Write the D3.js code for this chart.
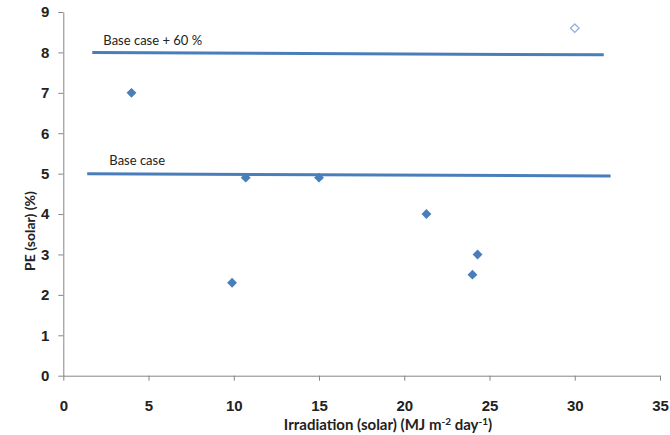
<!DOCTYPE html>
<html>
<head>
<meta charset="utf-8">
<script src="https://cdn.jsdelivr.net/npm/d3@7"></script>
<style>
  body { margin: 0; background: #fff; }
  svg { display: block; font-family: Lato, "Open Sans", sans-serif; }
  .tick text { font-size: 15px; font-weight: 700; fill: #222; }
  .axis path, .axis line { stroke: #868686; }
</style>
</head>
<body>
<div id="chart"></div>
<script>
// PE (solar) vs irradiation — observed points, one outlier, two reference lines

const irradiation = [4, 9.9, 10.7, 15, 21.3, 24, 24.3];
const pe = [7, 2.3, 4.9, 4.9, 4.0, 2.5, 3.0];

const openPoint = { x: 30, y: 8.6 };

// hand-drawn reference lines (endpoints)
const refNames = ["Base case + 60 %", "Base case"];
const refX = [[1.7, 31.7], [1.4, 32.1]];
const refY = [[8.0, 7.94], [5.0, 4.94]];

const xTicks = [0, 5, 10, 15, 20, 25, 30, 35];
const yTicks = [0, 1, 2, 3, 4, 5, 6, 7, 8, 9];

const width = 670, height = 435;
const margin = { top: 12, right: 10, bottom: 59.3, left: 63.3 };

const svg = d3.select("#chart").append("svg")
  .attr("width", width).attr("height", height);

const x = d3.scaleLinear().domain([0, 35]).range([margin.left, width - margin.right]);
const y = d3.scaleLinear().domain([0, 9]).range([height - margin.bottom, margin.top]);

// axes
svg.append("g").attr("class", "axis")
  .attr("transform", `translate(0,${y(0)})`)
  .call(d3.axisBottom(x).tickValues(xTicks).tickSize(5).tickPadding(20).tickSizeOuter(0));
svg.append("g").attr("class", "axis")
  .attr("transform", `translate(${x(0)},0)`)
  .call(d3.axisLeft(y).tickValues(yTicks).tickSize(5).tickPadding(9).tickSizeOuter(0));

// axis titles
svg.append("text")
  .attr("x", 388).attr("y", 430)
  .attr("text-anchor", "middle")
  .attr("font-size", 15).attr("font-weight", 700).attr("fill", "#222")
  .call(t => {
    t.append("tspan").text("Irradiation (solar) (MJ m");
    t.append("tspan").attr("dy", -5).attr("font-size", 10).text("-2");
    t.append("tspan").attr("dy", 5).text(" day");
    t.append("tspan").attr("dy", -5).attr("font-size", 10).text("-1");
    t.append("tspan").attr("dy", 5).text(")");
  });

svg.append("text")
  .attr("transform", `translate(35,${231}) rotate(-90)`)
  .attr("text-anchor", "middle")
  .attr("font-size", 14).attr("font-weight", 700).attr("fill", "#222")
  .text("PE (solar) (%)");

// reference lines
const line = d3.line().x(d => x(d[0])).y(d => y(d[1]));
refNames.forEach((name, i) => {
  const pts = refX[i].map((v, j) => [v, refY[i][j]]);
  svg.append("path")
    .attr("d", line(pts))
    .attr("fill", "none").attr("stroke", "#4a7ebb").attr("stroke-width", 3);
});

// line labels
svg.append("text")
  .attr("x", x(2.35)).attr("y", y(8) - 7)
  .attr("font-size", 13).attr("fill", "#222")
  .text(refNames[0]);
svg.append("text")
  .attr("x", x(2.7)).attr("y", y(5) - 9)
  .attr("font-size", 13).attr("fill", "#222")
  .text(refNames[1]);

// points
const diamond = d3.symbol().type(d3.symbolDiamond2).size(62);
svg.append("g").selectAll("path")
  .data(irradiation.map((v, i) => ({ x: v, y: pe[i] })))
  .join("path")
  .attr("transform", d => `translate(${x(d.x)},${y(d.y)})`)
  .attr("d", diamond)
  .attr("fill", "#4a7ebb");

svg.append("path")
  .attr("transform", `translate(${x(openPoint.x)},${y(openPoint.y)})`)
  .attr("d", d3.symbol().type(d3.symbolDiamond2).size(46)())
  .attr("fill", "#fff").attr("stroke", "#8eb0dc").attr("stroke-width", 1.3);
</script>
</body>
</html>
